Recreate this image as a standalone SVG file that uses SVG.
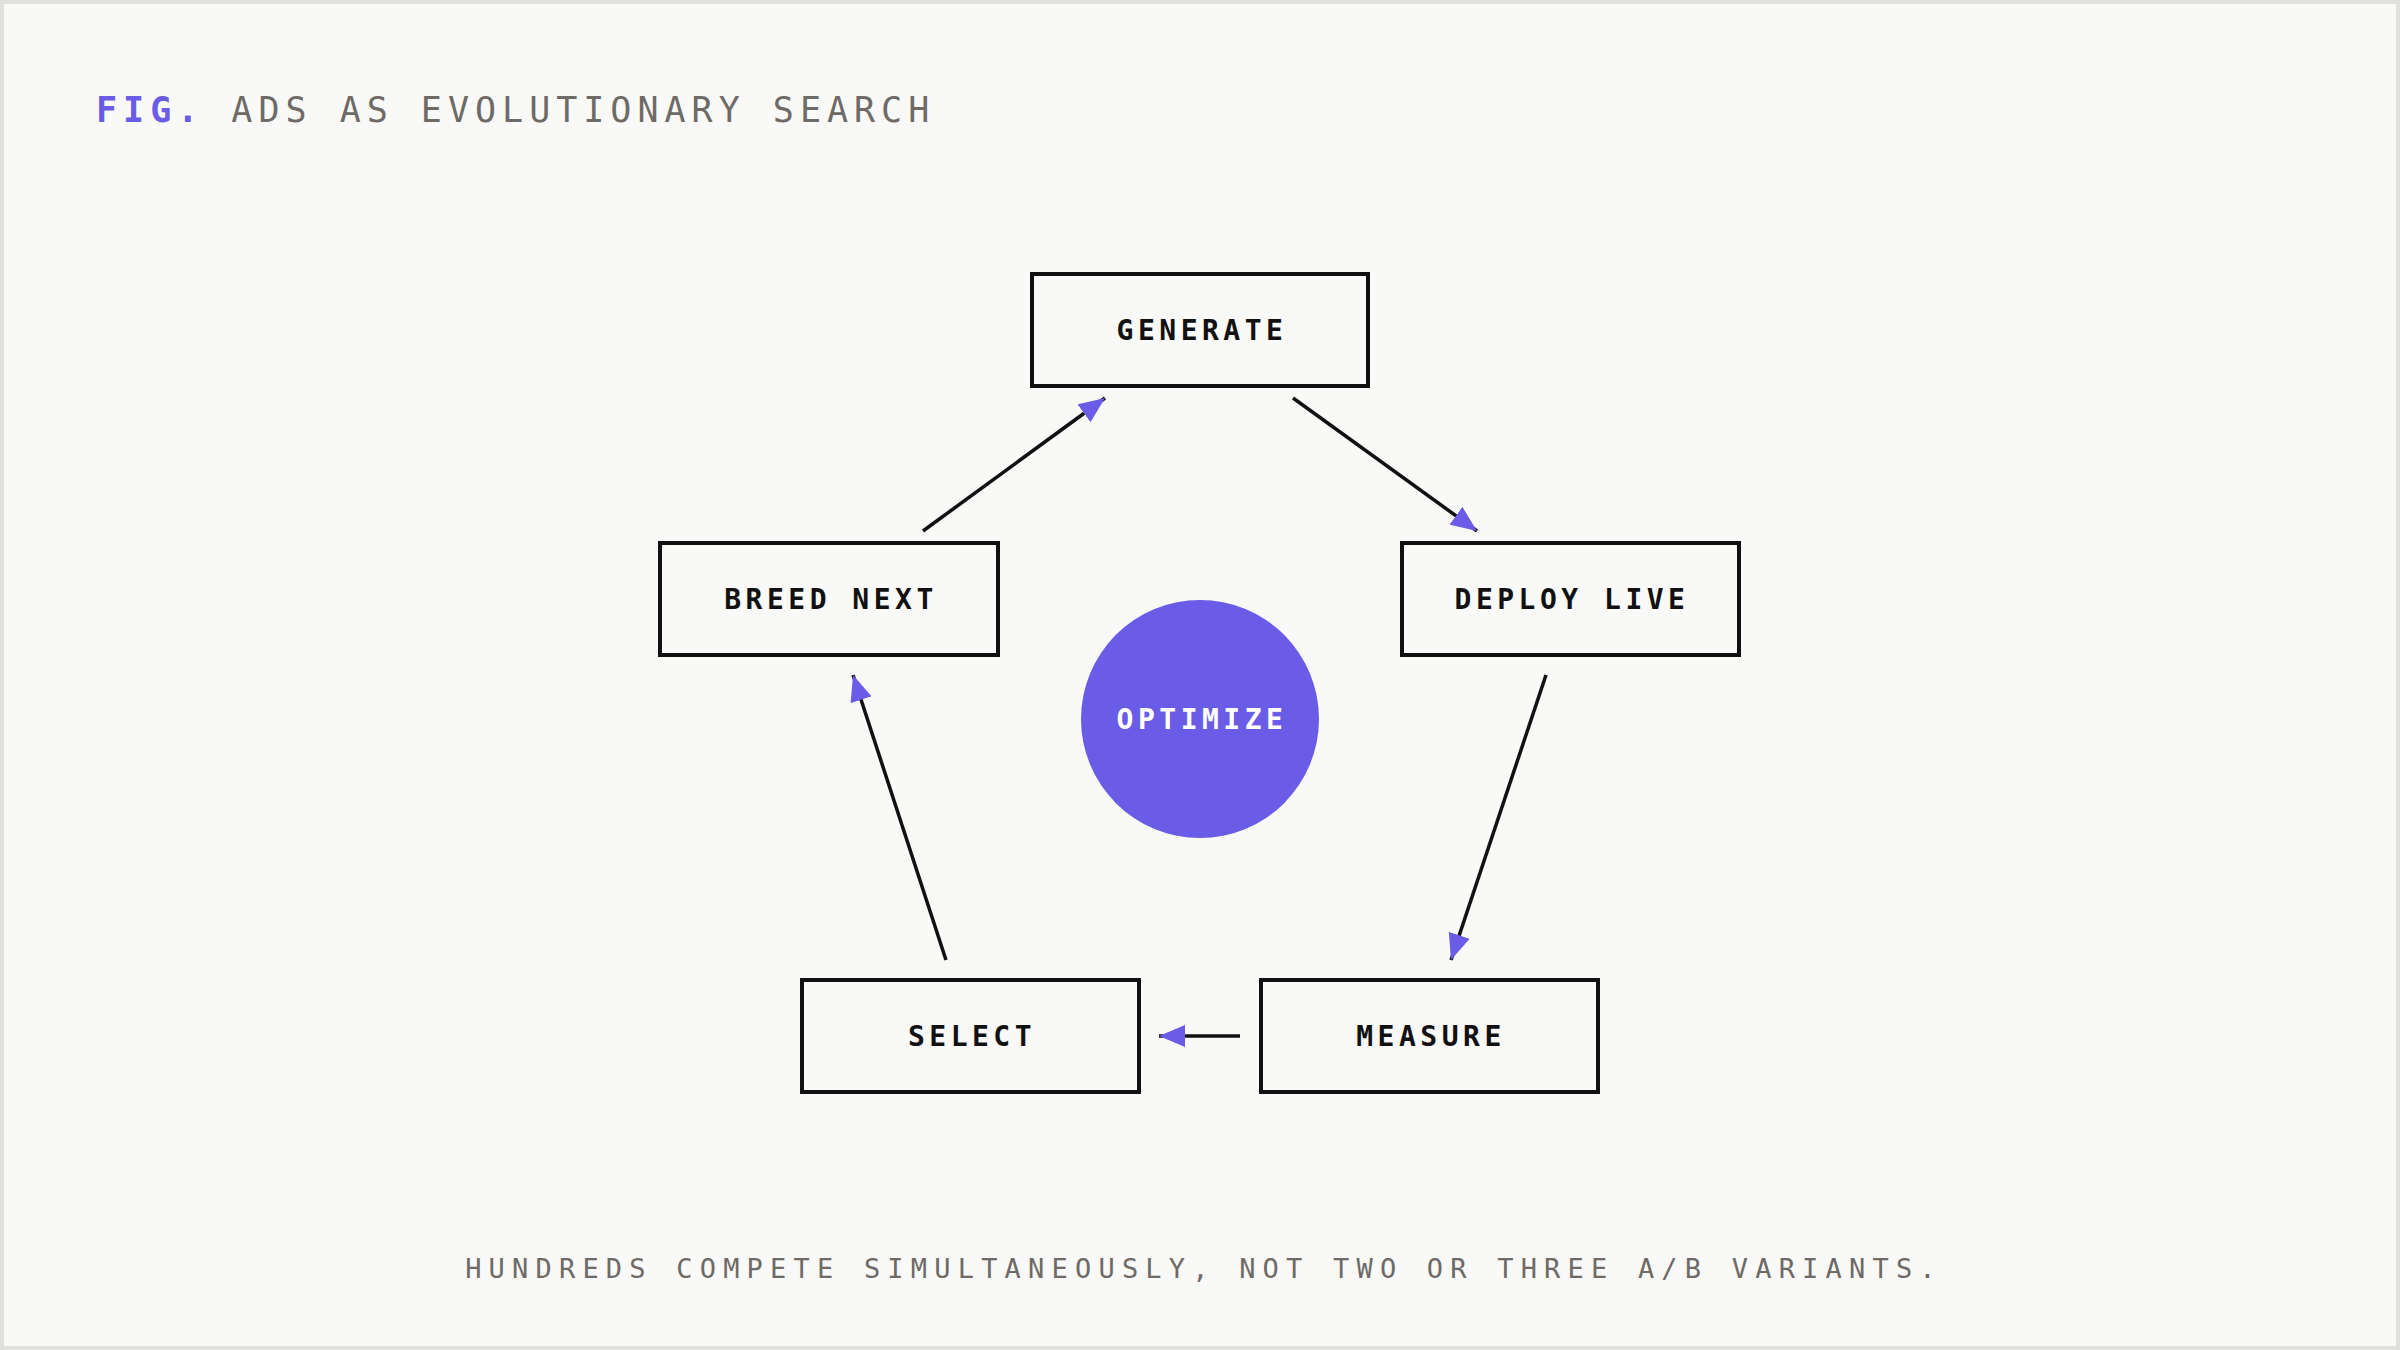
<svg xmlns="http://www.w3.org/2000/svg" width="2400" height="1350" viewBox="0 0 2400 1350">
<style>
.node rect{fill:none;stroke:#111;stroke-width:4}
.lbl{font-family:"DejaVu Sans Mono","Liberation Mono",monospace;font-weight:bold;font-size:28px;letter-spacing:4.5px;fill:#111;text-anchor:middle}
.edge{stroke:#111;stroke-width:3.5;fill:none;marker-end:url(#ah)}
.mono{font-family:"DejaVu Sans Mono","Liberation Mono",monospace}
</style>
<defs>
<marker id="ah" markerUnits="userSpaceOnUse" markerWidth="26" markerHeight="22" viewBox="0 0 26 22" refX="26" refY="11" orient="auto">
<path d="M0,0 L26,11 L0,22 z" fill="#6b5ce7"/>
</marker>
</defs>
<rect x="0" y="0" width="2400" height="1350" fill="#f9f9f7"/>
<rect x="2" y="2" width="2396" height="1346" fill="none" stroke="#e0e0de" stroke-width="4"/>
<text x="96" y="122" class="mono" font-size="35" letter-spacing="6"><tspan fill="#6b5ce7" font-weight="bold">FIG.</tspan><tspan fill="#6e6a66"> ADS AS EVOLUTIONARY SEARCH</tspan></text>
<g id="connectors">
<line class="edge" x1="1293" y1="398" x2="1477" y2="531"/>
<line class="edge" x1="1546" y1="675" x2="1451" y2="960"/>
<line class="edge" x1="1240" y1="1036" x2="1159" y2="1036"/>
<line class="edge" x1="946" y1="960" x2="853" y2="675"/>
<line class="edge" x1="923" y1="531" x2="1105" y2="398"/>
</g>
<g id="generate" class="node"><rect x="1032" y="274" width="336" height="112"/><text class="lbl" x="1202" y="340">GENERATE</text></g>
<g id="deploy" class="node"><rect x="1402" y="543" width="337" height="112"/><text class="lbl" x="1572" y="609">DEPLOY LIVE</text></g>
<g id="measure" class="node"><rect x="1261" y="980" width="337" height="112"/><text class="lbl" x="1431" y="1046">MEASURE</text></g>
<g id="select" class="node"><rect x="802" y="980" width="337" height="112"/><text class="lbl" x="972" y="1046">SELECT</text></g>
<g id="breed" class="node"><rect x="660" y="543" width="338" height="112"/><text class="lbl" x="831" y="609">BREED NEXT</text></g>
<g id="optimize"><circle cx="1200" cy="719" r="119" fill="#6b5ce7"/><text class="lbl" x="1202" y="729" style="fill:#fff">OPTIMIZE</text></g>
<text x="1204" y="1278" class="mono" font-size="27" letter-spacing="7.2" fill="#6e6a66" text-anchor="middle">HUNDREDS COMPETE SIMULTANEOUSLY, NOT TWO OR THREE A/B VARIANTS.</text>
</svg>
